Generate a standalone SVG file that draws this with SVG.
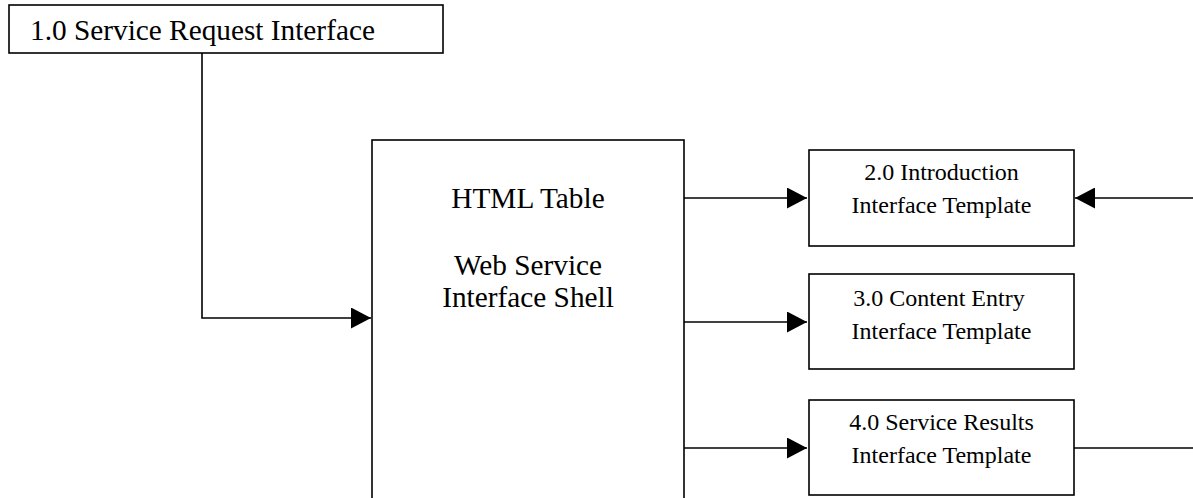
<svg xmlns="http://www.w3.org/2000/svg" width="1193" height="498" viewBox="0 0 1193 498">
<style>
.box{fill:#fff;stroke:#000;stroke-width:1.6}
.ln{fill:none;stroke:#000;stroke-width:1.6}
.big{font-family:"Liberation Serif","Times New Roman",serif;font-size:29.3px;fill:#000}
.sm{font-family:"Liberation Serif","Times New Roman",serif;font-size:24px;fill:#000;text-anchor:middle}
</style>
<defs>
<marker id="ah" markerUnits="userSpaceOnUse" markerWidth="20" markerHeight="21" refX="20" refY="10.5" orient="auto" viewBox="0 0 20 21">
<path d="M0,0 L20,10.5 L0,21 Z" fill="#000"/>
</marker>
</defs>
<rect width="1193" height="498" fill="#fff"/>
<g id="connectors">
<polyline class="ln" points="202,53 202,318 371,318" marker-end="url(#ah)"/>
<line class="ln" x1="684" y1="198" x2="807" y2="198" marker-end="url(#ah)"/>
<line class="ln" x1="684" y1="322" x2="807" y2="322" marker-end="url(#ah)"/>
<line class="ln" x1="684" y1="448" x2="807" y2="448" marker-end="url(#ah)"/>
<line class="ln" x1="1193" y1="198" x2="1075" y2="198" marker-end="url(#ah)"/>
<line class="ln" x1="1074" y1="448" x2="1193" y2="448"/>
</g>
<g id="n1">
<rect class="box" x="9" y="5" width="434" height="48"/>
<text class="big" x="30" y="40">1.0 Service Request Interface</text>
</g>
<g id="shell">
<rect class="box" x="372" y="140" width="312" height="370"/>
<text class="big" x="528" y="208" text-anchor="middle">HTML Table</text>
<text class="big" x="528" y="275" text-anchor="middle">Web Service</text>
<text class="big" x="528" y="307" text-anchor="middle">Interface Shell</text>
</g>
<g id="n2">
<rect class="box" x="809" y="150" width="265" height="96"/>
<text class="sm" x="941.5" y="180">2.0 Introduction</text>
<text class="sm" x="941.5" y="213">Interface Template</text>
</g>
<g id="n3">
<rect class="box" x="809" y="274" width="265" height="95"/>
<text class="sm" x="939" y="306">3.0 Content Entry</text>
<text class="sm" x="941.5" y="339">Interface Template</text>
</g>
<g id="n4">
<rect class="box" x="809" y="400" width="265" height="95"/>
<text class="sm" x="941.5" y="430">4.0 Service Results</text>
<text class="sm" x="941.5" y="463">Interface Template</text>
</g>
</svg>
